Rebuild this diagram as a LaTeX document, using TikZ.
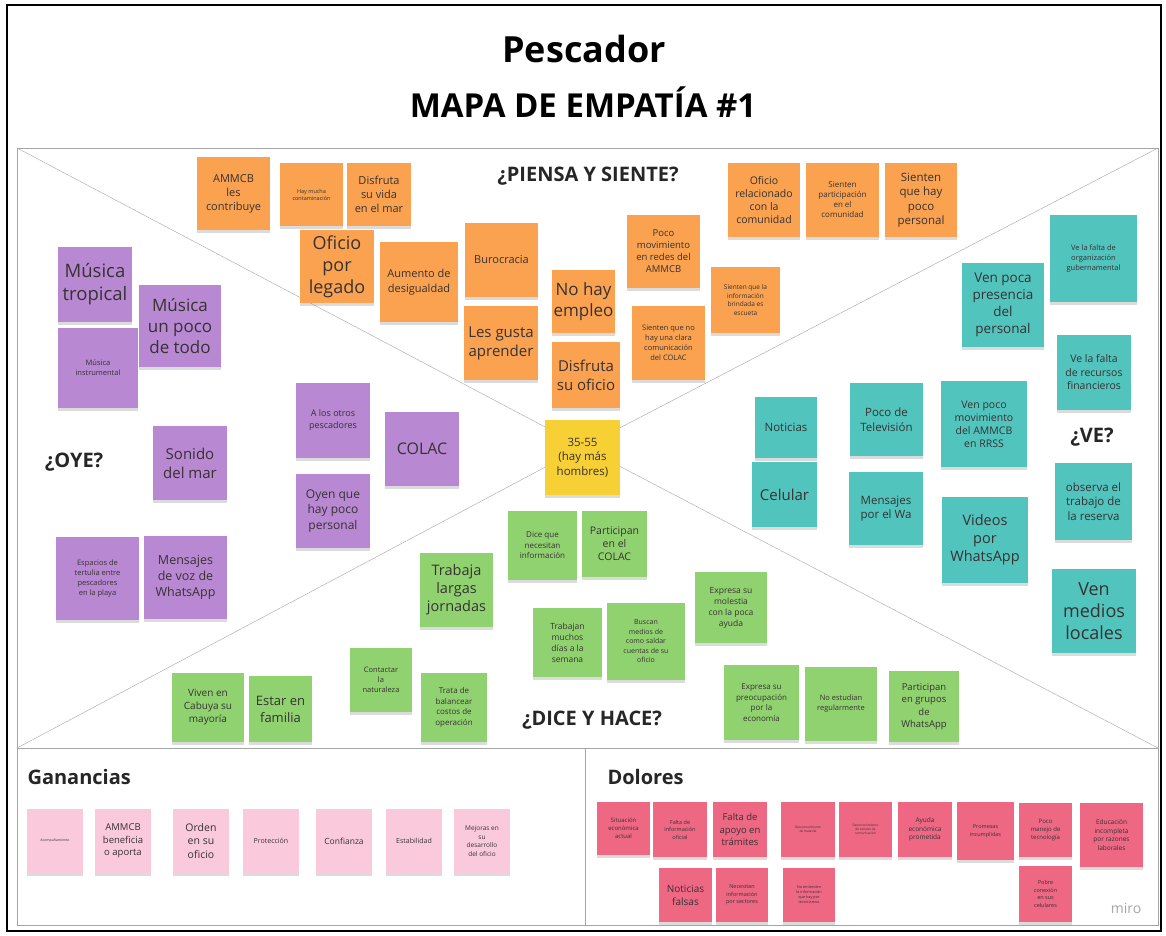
\documentclass[tikz,border=0pt]{standalone}
\usepackage{fontspec}
\setmainfont{Open Sans}
\usetikzlibrary{shadows}
\definecolor{naranja}{RGB}{250,162,80}
\definecolor{turquesa}{RGB}{82,196,190}
\definecolor{morado}{RGB}{184,136,210}
\definecolor{amarillo}{RGB}{246,208,52}
\definecolor{verde}{RGB}{145,210,112}
\definecolor{rosa}{RGB}{250,202,220}
\definecolor{rojo}{RGB}{238,104,132}
\definecolor{linea}{RGB}{165,165,165}
\definecolor{tinta}{RGB}{55,50,50}
\tikzset{
  nota/.style={align=center, inner sep=1pt, text=tinta,
    drop shadow={opacity=0.28, shadow xshift=0pt, shadow yshift=-2.5pt}},
  wh/.style 2 args={minimum width=#1pt, minimum height=#2pt},
  fz/.style 2 args={font=\fontsize{#1}{#2}\selectfont},
  naranja/.style={nota, fill=naranja},
  turquesa/.style={nota, fill=turquesa},
  morado/.style={nota, fill=morado},
  amarillo/.style={nota, fill=amarillo},
  verde/.style={nota, fill=verde},
  rosa/.style={nota, fill=rosa},
  rojo/.style={nota, fill=rojo},
  seccion/.style={font=\fontsize{20}{24}\selectfont\bfseries, text=black!85}
}
\begin{document}
\begin{tikzpicture}[x=1pt, y=-1pt]
  \useasboundingbox (0,0) rectangle (1166,935);
  \fill[white] (0,0) rectangle (1166,935);
  \draw[line width=2.5pt] (7,5) rectangle (1161,931);
  % titulo
  \node[font=\fontsize{36}{40}\selectfont\bfseries] (titulo) at (584,49) {Pescador};
  \node[font=\fontsize{33}{38}\selectfont\bfseries] (subtitulo) at (583,102) {MAPA DE EMPATÍA \#1};
  % tablero
  \coordinate (tl) at (17,148);
  \coordinate (tr) at (1158,148);
  \coordinate (bl) at (17,748);
  \coordinate (br) at (1158,748);
  \coordinate (cen) at (583,447);
  \coordinate (mid) at (585,748);
  \coordinate (midb) at (585,925);
  \draw[linea] (17,148) rectangle (1158,925);
  \draw[linea] (bl) -- (br);
  \draw[linea] (mid) -- (midb);
  \draw[linea] (tl) -- (cen) -- (tr);
  \draw[linea] (bl) -- (cen) -- (br);
  \node[seccion] (piensa) at (588,176) {¿PIENSA Y SIENTE?};
  \node[seccion] (oye) at (74,462) {¿OYE?};
  \node[seccion] (ve) at (1092,437) {¿VE?};
  \node[seccion] (dice) at (592,720) {¿DICE Y HACE?};
  \node[seccion, anchor=west] (ganancias) at (24,777) {Ganancias};
  \node[seccion, anchor=west] (dolores) at (604,777) {Dolores};
  \node[font=\fontsize{14}{16}\selectfont, text=black!35] (miro) at (1126,908) {miro};

  % piensa y siente
  \node[naranja, wh={73}{73}, fz={11}{14}] (o1) at (233.5,193.5) {AMMCB\\les\\contribuye};
  \node[naranja, wh={63}{63}, fz={5.5}{7}] (o2) at (311.5,194.5) {Hay mucha\\contaminación};
  \node[naranja, wh={64}{63}, fz={11}{14}] (o3) at (379,194.5) {Disfruta\\su vida\\en el mar};
  \node[naranja, wh={74}{73}, fz={18}{22}] (o4) at (337,266.5) {Oficio\\por\\legado};
  \node[naranja, wh={78}{80}, fz={11}{15}] (o5) at (419,282) {Aumento de\\desigualdad};
  \node[naranja, wh={73}{74}, fz={11}{14}] (o6) at (501.5,260) {Burocracia};
  \node[naranja, wh={74}{74}, fz={15}{19}] (o7) at (501,343) {Les gusta\\aprender};
  \node[naranja, wh={63}{63}, fz={17}{21}] (o8) at (583.5,301.5) {No hay\\empleo};
  \node[naranja, wh={68}{66}, fz={15}{19}] (o9) at (586,375) {Disfruta\\su oficio};
  \node[naranja, wh={73}{73}, fz={9.5}{12}] (o10) at (663.5,251.5) {Poco\\movimiento\\en redes del\\AMMCB};
  \node[naranja, wh={73}{74}, fz={7.5}{10}] (o11) at (668.5,343) {Sienten que no\\hay una clara\\comunicación\\del COLAC};
  \node[naranja, wh={69}{66}, fz={6.5}{8.5}] (o12) at (745.5,300) {Sienten que la\\información\\brindada es\\escueta};
  \node[naranja, wh={72}{74}, fz={10.5}{13}] (o13) at (764,200) {Oficio\\relacionado\\con la\\comunidad};
  \node[naranja, wh={73}{74}, fz={8}{10}] (o14) at (842.5,200) {Sienten\\participación\\en el\\comunidad};
  \node[naranja, wh={72}{74}, fz={11.5}{14.5}] (o15) at (921,200) {Sienten\\que hay\\poco\\personal};

  % ve
  \node[turquesa, wh={87}{87}, fz={7.5}{10}] (t1) at (1093.5,258.5) {Ve la falta de\\organización\\gubernamental};
  \node[turquesa, wh={82}{84}, fz={13.5}{17}] (t2) at (1003,305) {Ven poca\\presencia\\del\\personal};
  \node[turquesa, wh={74}{75}, fz={10.5}{13.5}] (t3) at (1094,372.5) {Ve la falta\\de recursos\\financieros};
  \node[turquesa, wh={62}{61}, fz={11.5}{14}] (t4) at (786,427.5) {Noticias};
  \node[turquesa, wh={65}{65}, fz={15}{18}] (t5) at (784.5,494.5) {Celular};
  \node[turquesa, wh={73}{73}, fz={11.5}{14.5}] (t6) at (886.5,419.5) {Poco de\\Televisión};
  \node[turquesa, wh={74}{73}, fz={11.5}{14.5}] (t7) at (886,508.5) {Mensajes\\por el Wa};
  \node[turquesa, wh={86}{86}, fz={10.5}{13}] (t8) at (984,424) {Ven poco\\movimiento\\del AMMCB\\en RRSS};
  \node[turquesa, wh={86}{86}, fz={14.5}{18}] (t9) at (985,540) {Videos\\por\\WhatsApp};
  \node[turquesa, wh={77}{77}, fz={11.5}{14.5}] (t10) at (1093.5,501.5) {observa el\\trabajo de\\la reserva};
  \node[turquesa, wh={84}{84}, fz={18}{22}] (t11) at (1094,611) {Ven\\medios\\locales};

  % oye
  \node[morado, wh={74}{75}, fz={18.5}{23}] (p1) at (95,284.5) {Música\\tropical};
  \node[morado, wh={82}{82}, fz={17}{21}] (p2) at (180,326) {Música\\un poco\\de todo};
  \node[morado, wh={80}{80}, fz={7.5}{10}] (p3) at (98,368) {Música\\instrumental};
  \node[morado, wh={74}{75}, fz={9}{12}] (p4) at (333,420.5) {A los otros\\pescadores};
  \node[morado, wh={74}{74}, fz={16}{20}] (p5) at (422,449) {COLAC};
  \node[morado, wh={74}{74}, fz={15}{19}] (p6) at (190,463) {Sonido\\del mar};
  \node[morado, wh={74}{74}, fz={12}{15.5}] (p7) at (333,511) {Oyen que\\hay poco\\personal};
  \node[morado, wh={83}{83}, fz={7.5}{10}] (p8) at (97.5,578.5) {Espacios de\\tertulia entre\\pescadores\\en la playa};
  \node[morado, wh={83}{83}, fz={12.5}{16}] (p9) at (185.5,577.5) {Mensajes\\de voz de\\WhatsApp};

  % centro
  \node[amarillo, wh={75}{75}, fz={11.5}{14.5}] (edad) at (582.5,457.5) {35-55\\(hay más\\hombres)};

  % dice y hace
  \node[verde, wh={73}{74}, fz={14.5}{18}] (g1) at (456.5,590) {Trabaja\\largas\\jornadas};
  \node[verde, wh={69}{69}, fz={8}{10.5}] (g2) at (542.5,545.5) {Dice que\\necesitan\\información};
  \node[verde, wh={65}{66}, fz={10.5}{13}] (g3) at (614.5,544) {Participan\\en el\\COLAC};
  \node[verde, wh={69}{69}, fz={8.5}{11}] (g4) at (567.5,642.5) {Trabajan\\muchos\\días a la\\semana};
  \node[verde, wh={78}{77}, fz={7}{9.5}] (g5) at (646,641.5) {Buscan\\medios de\\como saldar\\cuentas de su\\oficio};
  \node[verde, wh={72}{71}, fz={8.5}{11}] (g6) at (731,607.5) {Expresa su\\molestia\\con la poca\\ayuda};
  \node[verde, wh={62}{64}, fz={7.5}{10}] (g7) at (381,680) {Contactar\\la\\naturaleza};
  \node[verde, wh={66}{69}, fz={8}{10.5}] (g8) at (454,707.5) {Trata de\\balancear\\costos de\\operación};
  \node[verde, wh={72}{69}, fz={10}{13}] (g9) at (208,707.5) {Viven en\\Cabuya su\\mayoría};
  \node[verde, wh={63}{66}, fz={13}{17}] (g10) at (280.5,709) {Estar en\\familia};
  \node[verde, wh={75}{75}, fz={8}{10.5}] (g11) at (761.5,702.5) {Expresa su\\preocupación\\por la\\economía};
  \node[verde, wh={72}{74}, fz={7.5}{10}] (g12) at (841,704) {No estudian\\regularmente};
  \node[verde, wh={70}{71}, fz={9.5}{12.5}] (g13) at (924,706.5) {Participan\\en grupos\\de\\WhatsApp};

  % ganancias
  \node[rosa, wh={56}{64}, fz={3.5}{4.5}] (n1) at (55,841) {Acompañamiento};
  \node[rosa, wh={56}{64}, fz={9.5}{12.5}] (n2) at (123,841) {AMMCB\\beneficia\\o aporta};
  \node[rosa, wh={56}{64}, fz={10.5}{13.5}] (n3) at (201,841) {Orden\\en su\\oficio};
  \node[rosa, wh={56}{64}, fz={7}{9}] (n4) at (271,841) {Protección};
  \node[rosa, wh={56}{64}, fz={8.5}{11}] (n5) at (344,841) {Confianza};
  \node[rosa, wh={56}{64}, fz={7}{9}] (n6) at (414,841) {Estabilidad};
  \node[rosa, wh={56}{64}, fz={6.5}{8.5}] (n7) at (482,841) {Mejoras en\\su\\desarrollo\\del oficio};

  % dolores
  \node[rojo, wh={53}{53}, fz={6}{8}] (d1) at (623.5,828.5) {Situación\\económica\\actual};
  \node[rojo, wh={54}{55}, fz={5.5}{7.5}] (d2) at (680,829.5) {Falta de\\información\\oficial};
  \node[rojo, wh={54}{55}, fz={9.5}{12.5}] (d3) at (740,829.5) {Falta de\\apoyo en\\trámites};
  \node[rojo, wh={54}{55}, fz={3.2}{4.2}] (d4) at (808,829.5) {Desconocimiento\\de material};
  \node[rojo, wh={53}{55}, fz={3.2}{4.2}] (d5) at (865.5,829.5) {Desconocimiento\\de canales de\\comunicación};
  \node[rojo, wh={53}{54}, fz={10}{13}] (d6) at (685.5,895) {Noticias\\falsas};
  \node[rojo, wh={52}{54}, fz={5.5}{7.5}] (d7) at (742,895) {Necesitan\\información\\por sectores};
  \node[rojo, wh={52}{54}, fz={3.8}{5}] (d8) at (809,895) {No entienden\\la información\\que hay por\\tecnicismos};
  \node[rojo, wh={54}{55}, fz={6.5}{8.5}] (d9) at (925,829.5) {Ayuda\\económica\\prometida};
  \node[rojo, wh={57}{58}, fz={5.5}{7.5}] (d10) at (985.5,831) {Promesas\\incumplidas};
  \node[rojo, wh={53}{54}, fz={6}{8}] (d11) at (1045.5,830) {Poco\\manejo de\\tecnología};
  \node[rojo, wh={63}{64}, fz={6.5}{8.5}] (d12) at (1111.5,835) {Educación\\incompleta\\por razones\\laborales};
  \node[rojo, wh={53}{56}, fz={5.5}{7.5}] (d13) at (1045.5,894) {Pobre\\conexión\\en sus\\celulares};
\end{tikzpicture}
\end{document}
